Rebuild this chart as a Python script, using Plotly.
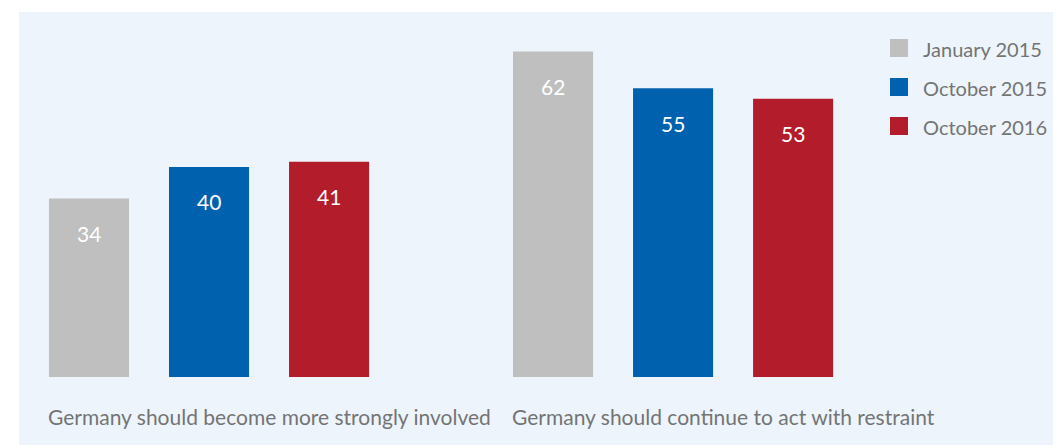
import plotly.graph_objects as go

categories = ["Germany should become more strongly involved",
              "Germany should continue to act with restraint"]
series_names = ["January 2015", "October 2015", "October 2016"]
series_values = [[34, 62], [40, 55], [41, 53]]
colors = ["#BEBFBE", "#0062AF", "#B31D2B"]

OFF = 8  # default page body margin
W, H = 1061 - OFF, 446 - OFF
L, T, B, R = 19 - OFF, 12 - OFF, 1, 0
PW, PH = W - L - R, H - T - B

BARGAP = 0.224
GROUPGAP = 0.333
FONT = "Lato"
TXT = "#747474"

fig = go.Figure()
for name, vals, col in zip(series_names, series_values, colors):
    fig.add_trace(go.Bar(x=categories, y=vals, name=name, marker_color=col,
                         marker_line_width=0, showlegend=False))

def px_x(p):
    return (p - OFF - L) / PW

def px_y(p):
    return 1 - (p - OFF - T) / PH

annotations = []
slot = (1 - BARGAP) / len(series_names)
for k, vals in enumerate(series_values):
    for i, v in enumerate(vals):
        annotations.append(dict(x=i + (k - (len(series_names) - 1) / 2) * slot,
                                y=v, xref="x", yref="y", text=str(v),
                                showarrow=False, yshift=-35, yanchor="middle",
                                font=dict(family=FONT, size=21, color="white")))
for i, c in enumerate(categories):
    annotations.append(dict(x=i, y=0, xref="x", yref="y", text=c, showarrow=False,
                            xanchor="left", xshift=-163, yanchor="middle", yshift=-40,
                            font=dict(family=FONT, size=21, color=TXT)))

shapes = []
for k, (name, col) in enumerate(zip(series_names, colors)):
    cy = 48 + 39 * k
    shapes.append(dict(type="rect", xref="paper", yref="paper",
                       x0=px_x(890), x1=px_x(908), y0=px_y(cy + 9), y1=px_y(cy - 9),
                       fillcolor=col, line_width=0))
    annotations.append(dict(x=px_x(921), y=px_y(cy + 1), xref="paper", yref="paper",
                            text=name, showarrow=False, xanchor="left", yanchor="middle",
                            font=dict(family=FONT, size=20, color=TXT)))

fig.update_layout(
    width=W, height=H,
    margin=dict(l=L, r=R, t=T, b=B),
    paper_bgcolor="white", plot_bgcolor="#EDF4FC",
    barmode="group", bargap=BARGAP, bargroupgap=GROUPGAP,
    xaxis=dict(range=[-0.4095, 1.836], showticklabels=False, showgrid=False,
               zeroline=False, showline=False, ticks=""),
    yaxis=dict(range=[-12.95, 69.5], showticklabels=False, showgrid=False,
               zeroline=False, showline=False, ticks=""),
    annotations=annotations, shapes=shapes,
)
fig.write_html("out.html")
